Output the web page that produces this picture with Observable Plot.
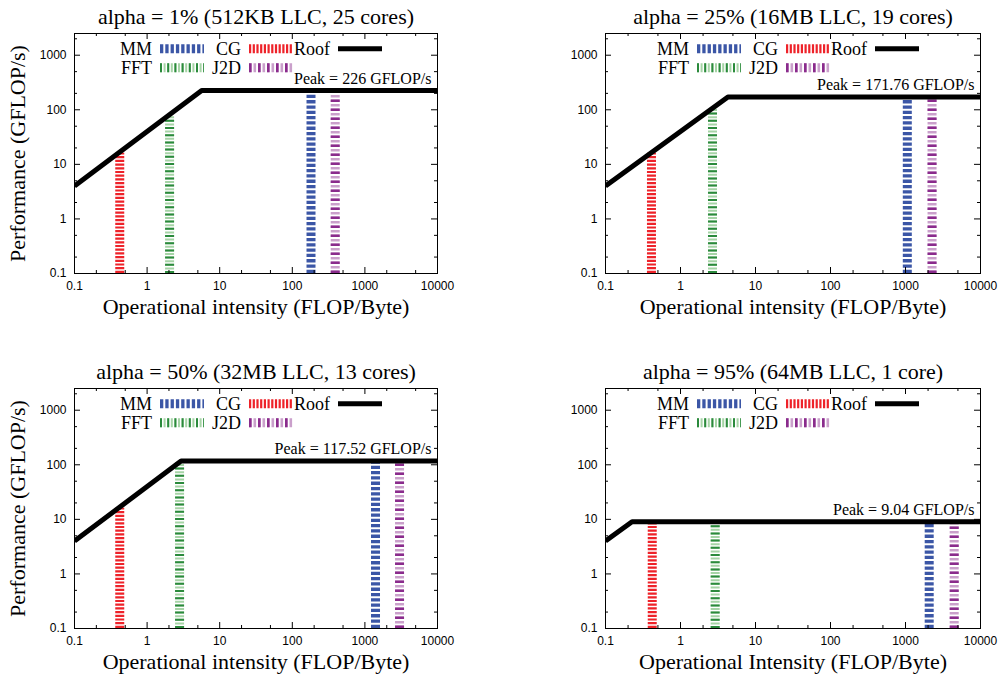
<!DOCTYPE html>
<html><head><meta charset="utf-8">
<script src="https://cdn.jsdelivr.net/npm/d3@7"></script>
<script src="https://cdn.jsdelivr.net/npm/@observablehq/plot@0.6"></script>
<style>
body{margin:0;background:#fff;}
#root{position:relative;width:1008px;height:675px;overflow:hidden;background:#fff;}
.panel{position:absolute;}
</style></head><body><div id="root"></div>
<script>
// ---------- data ----------
const titles = [
  "alpha = 1% (512KB LLC, 25 cores)",
  "alpha = 25% (16MB LLC, 19 cores)",
  "alpha = 50% (32MB LLC, 13 cores)",
  "alpha = 95% (64MB LLC, 1 core)"
];
const xTitles = [
  "Operational intensity (FLOP/Byte)",
  "Operational intensity (FLOP/Byte)",
  "Operational intensity (FLOP/Byte)",
  "Operational Intensity (FLOP/Byte)"
];
const yTitle = "Performance (GFLOP/s)";
const peaks = [226, 171.76, 117.52, 9.04];
const peakLabels = ["Peak = 226 GFLOP/s", "Peak = 171.76 GFLOP/s", "Peak = 117.52 GFLOP/s", "Peak = 9.04 GFLOP/s"];
const roofStartOI = 0.1;
const roofStartPerf = 4.0;
const kneeOI = [5.65, 4.29, 2.94, 0.226];
const roofEndOI = 10000;

const kernels = ["MM", "CG", "FFT", "J2D"];
const mmOI  = [181, 1057, 1400, 2070];
const mmPerf = [226, 171.76, 117.52, 9.04];
const cgOI  = [0.42, 0.41, 0.42, 0.42];
const cgPerf = [16, 16, 16, 9.04];
const fftOI = [2.04, 2.67, 2.8, 2.9];
const fftPerf = [78, 104, 110, 9.04];
const j2dOI = [390, 2260, 3000, 4460];
const j2dPerf = [226, 171.76, 117.52, 9.04];

const legendRow1 = ["MM", "CG", "Roof"];
const legendRow2 = ["FFT", "J2D"];

const xTicks = [0.1, 1, 10, 100, 1000, 10000];
const xMinor = [0.2, 0.5, 2, 5, 20, 50, 200, 500, 2000, 5000];
const yTicks = [0.1, 1, 10, 100, 1000];
const yMinor = [0.2, 0.5, 2, 5, 20, 50, 200, 500, 2000];
const xDomain = [0.1, 10000];
const yDomain = [0.1, 2500];

// ---------- styles ----------
const SERIF = "Liberation Serif, Times New Roman, serif";
const SANS = "Liberation Sans, Arial, sans-serif";
const styles = {
  MM:  [{color: "#3b56a6", dash: "3.3,2"}],
  CG:  [{color: "#ee2229", dash: "2.2,1.5"}],
  FFT: [{color: "#a6d4a6", dash: "2,1.6"}, {color: "#2b8a3c", dash: "2,5.2"}],
  J2D: [{color: "#caa0cb", dash: "2.6,1.9"}, {color: "#8a2b8c", dash: "2.6,6.4"}]
};
const layout = [
  {left: 0,   top: 0,   width: 504, height: 337, ml: 74,  mr: 67, mt: 33, mb: 64, ylab: true},
  {left: 504, top: 0,   width: 504, height: 337, ml: 101, mr: 28, mt: 33, mb: 64, ylab: false},
  {left: 0,   top: 355, width: 504, height: 320, ml: 74,  mr: 67, mt: 33, mb: 47, ylab: true},
  {left: 504, top: 355, width: 504, height: 320, ml: 101, mr: 28, mt: 33, mb: 47, ylab: false}
];

const fmt = d => String(d);
const root = document.getElementById("root");

for (let i = 0; i < 4; i++) {
  const L = layout[i];
  const fw = L.width - L.ml - L.mr, fh = L.height - L.mt - L.mb;
  const rows = [
    {k: "MM", oi: mmOI[i], perf: mmPerf[i]},
    {k: "CG", oi: cgOI[i], perf: cgPerf[i]},
    {k: "FFT", oi: fftOI[i], perf: fftPerf[i]},
    {k: "J2D", oi: j2dOI[i], perf: j2dPerf[i]}
  ];
  const roof = [
    {oi: roofStartOI, perf: roofStartPerf},
    {oi: kneeOI[i], perf: peaks[i]},
    {oi: roofEndOI, perf: peaks[i]}
  ];
  const marks = [];
  for (const r of rows) {
    for (const layer of styles[r.k]) {
      marks.push(Plot.ruleX([r], {x: "oi", y1: () => yDomain[0], y2: "perf",
        stroke: layer.color, strokeWidth: 9, strokeDasharray: layer.dash, clip: true}));
    }
  }
  marks.push(Plot.line(roof, {x: "oi", y: "perf", stroke: "black", strokeWidth: 5, clip: true, strokeLinecap: "butt"}));
  // ticks (inward, mirrored)
  marks.push(Plot.ruleX(xTicks, {x: d => d, insetTop: fh - 6, stroke: "black"}));
  marks.push(Plot.ruleX(xTicks, {x: d => d, insetBottom: fh - 6, stroke: "black"}));
  marks.push(Plot.ruleX(xMinor, {x: d => d, insetTop: fh - 3, stroke: "black"}));
  marks.push(Plot.ruleX(xMinor, {x: d => d, insetBottom: fh - 3, stroke: "black"}));
  marks.push(Plot.ruleY(yTicks, {y: d => d, insetRight: fw - 6, stroke: "black"}));
  marks.push(Plot.ruleY(yTicks, {y: d => d, insetLeft: fw - 6, stroke: "black"}));
  marks.push(Plot.ruleY(yMinor, {y: d => d, insetRight: fw - 3, stroke: "black"}));
  marks.push(Plot.ruleY(yMinor, {y: d => d, insetLeft: fw - 3, stroke: "black"}));
  marks.push(Plot.frame({stroke: "black", strokeWidth: 1}));
  marks.push(Plot.axisX({ticks: xTicks, tickSize: 0, tickPadding: 8, tickFormat: fmt, label: null, fontSize: 12, fontFamily: SANS}));
  marks.push(Plot.axisY({ticks: yTicks, tickSize: 0, tickPadding: 8, tickFormat: fmt, label: null, fontSize: 12, fontFamily: SANS}));
  // peak label
  marks.push(Plot.text([{oi: roofEndOI, perf: peaks[i], label: peakLabels[i]}], {
    x: "oi", y: "perf", text: "label", textAnchor: "end", lineAnchor: "middle", dx: -6, dy: -12,
    fontFamily: SERIF, fontSize: 16, fill: "black"}));
  // titles
  marks.push(Plot.text([titles[i]], {text: d => d, frameAnchor: "top", textAnchor: "middle", lineAnchor: "middle",
    dy: -17, fontFamily: SERIF, fontSize: 22, fill: "black"}));
  marks.push(Plot.text([xTitles[i]], {text: d => d, frameAnchor: "bottom", textAnchor: "middle", lineAnchor: "middle",
    dy: 33, fontFamily: SERIF, fontSize: 22, fill: "black"}));
  if (L.ylab) marks.push(Plot.text([yTitle], {text: d => d, frameAnchor: "left", textAnchor: "middle", lineAnchor: "middle",
    dx: -57, rotate: -90, fontFamily: SERIF, fontSize: 22, fill: "black"}));

  const chart = Plot.plot({
    width: L.width, height: L.height,
    marginLeft: L.ml, marginRight: L.mr, marginTop: L.mt, marginBottom: L.mb,
    x: {type: "log", domain: xDomain},
    y: {type: "log", domain: yDomain},
    style: {fontFamily: SANS, fontSize: "12px", background: "transparent", overflow: "visible"},
    marks
  });
  chart.classList.add("panel");
  chart.style.left = L.left + "px";
  chart.style.top = L.top + "px";
  root.appendChild(chart);

  // legend (gnuplot-style key, top center inside the frame)
  const svg = d3.select(chart);
  const cx = L.ml + fw / 2;
  const textEnd = [-103.5, -14.5, 74.5];
  const rowY = [L.mt + 15.7, L.mt + 34.7];
  const g = svg.append("g");
  const drawItem = (name, col, row) => {
    const y = rowY[row];
    const xe = cx + textEnd[col];
    g.append("text").attr("x", xe).attr("y", y).attr("dy", "0.34em").attr("text-anchor", "end")
      .attr("font-family", SERIF).attr("font-size", 18).attr("fill", "black").text(name);
    const x1 = xe + 8, x2 = xe + 52;
    if (name === "Roof") {
      g.append("line").attr("x1", x1).attr("x2", x2).attr("y1", y).attr("y2", y)
        .attr("stroke", "black").attr("stroke-width", 5);
    } else {
      for (const layer of styles[name]) {
        g.append("line").attr("x1", x1).attr("x2", x2).attr("y1", y).attr("y2", y)
          .attr("stroke", layer.color).attr("stroke-width", 9).attr("stroke-dasharray", layer.dash);
      }
    }
  };
  legendRow1.forEach((n, c) => drawItem(n, c, 0));
  legendRow2.forEach((n, c) => drawItem(n, c, 1));
}
</script></body></html>
